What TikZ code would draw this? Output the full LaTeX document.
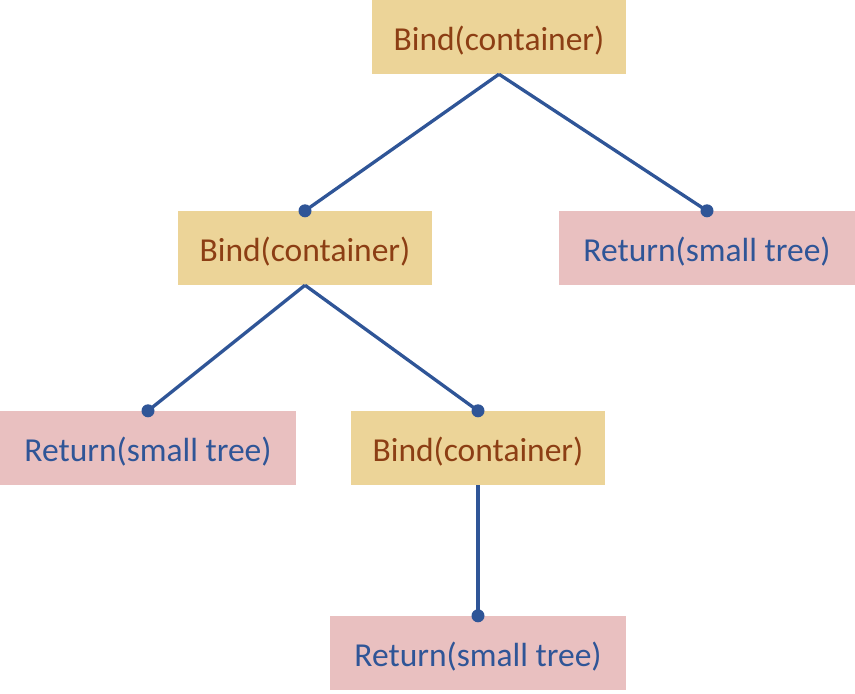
\documentclass[tikz,border=0pt]{standalone}
\usepackage{fontspec}
\setmainfont{Carlito}
\definecolor{parchment}{RGB}{236,212,152}
\definecolor{rosy}{RGB}{233,192,192}
\definecolor{bindtext}{RGB}{140,62,20}
\definecolor{linkblue}{RGB}{47,85,151}
\tikzset{
  bindbox/.style={rectangle, fill=parchment, text=bindtext, minimum width=254pt, minimum height=74pt, inner sep=0pt, text height=26pt, text depth=0pt},
  returnbox/.style={rectangle, fill=rosy, text=linkblue, minimum width=296pt, minimum height=74pt, inner sep=0pt, text height=26pt, text depth=0pt},
  link/.style={draw=linkblue, line width=3.3pt}
}

\begin{document}
\begin{tikzpicture}[x=1pt, y=-1pt, font=\fontsize{33.5}{38}\selectfont]
		\useasboundingbox (0,0) rectangle (855,694);
		% Draw the nodes
		\node[bindbox] (B1) at (499,37) {Bind(container)};
		\node[bindbox] (B2) at (305,248) {Bind(container)};
		\node[returnbox] (R1) at (707,248) {Return(small tree)};
		\node[returnbox] (R2) at (148,448) {Return(small tree)};
		\node[bindbox] (B3) at (478,448) {Bind(container)};
		\node[returnbox] (R3) at (478,653) {Return(small tree)};
		
		% Draw the edges
		\draw[link] (B1.south) -- (B2.north);
		\draw[link] (B1.south) -- (R1.north);
		\draw[link] (B2.south) -- (R2.north);
		\draw[link] (B2.south) -- (B3.north);
		\draw[link] (B3.south) -- (R3.north);
		
		\foreach \n in {B2,R1,R2,B3,R3}
			\fill[linkblue] (\n.north) circle (6.5pt);
	\end{tikzpicture}
\end{document}
